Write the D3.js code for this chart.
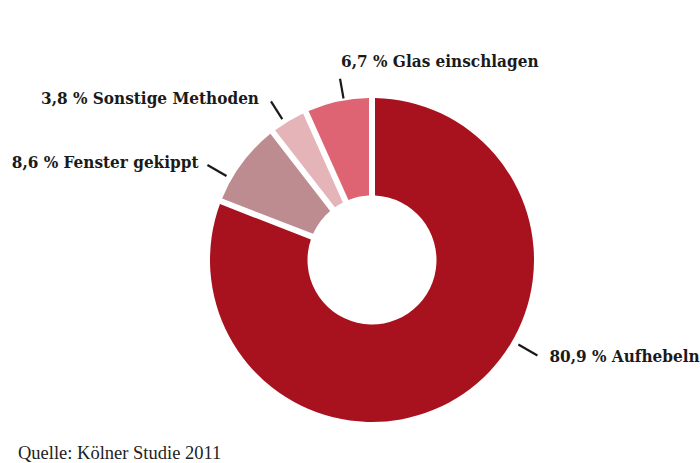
<!DOCTYPE html>
<html>
<head>
<meta charset="utf-8">
<script src="https://cdn.jsdelivr.net/npm/d3@7"></script>
<style>
  html, body { margin: 0; padding: 0; background: #fff; }
  svg { display: block; }
</style>
</head>
<body>
<svg id="chart" width="700" height="463"></svg>
<script>
// Einbruchsmethoden (Anteile in Prozent), im Uhrzeigersinn ab 12 Uhr
const methods = ["Aufhebeln", "Fenster gekippt", "Sonstige Methoden", "Glas einschlagen"];
const shares = [80.9, 8.6, 3.8, 6.7];
const shareLabels = ["80,9 %", "8,6 %", "3,8 %", "6,7 %"];
const colors = ["#a8121e", "#bd8c90", "#e5b4b9", "#de6473"];
const source = "Quelle: Kölner Studie 2011";

// Lage der Beschriftungen: Winkel des Hinweisstrichs (Grad), Strichradien und Textversatz
const labelLayout = [
  { angle: 120, r1: 169, r2: 191, anchor: "start", dx: 12, dy: 6 },
  { angle: 300, r1: 168, r2: 190, anchor: "end", dx: -9, dy: 2.5 },
  { angle: 327.5, r1: 167, r2: 188, anchor: "end", dx: -12, dy: 2.5 },
  { angle: 350, r1: 164, r2: 184, anchor: "start", dx: 1, dy: -11.5 }
];

const svg = d3.select("#chart");
const cx = 372, cy = 260;
const innerR = 64.5, outerR = 162;

const data = methods.map((m, i) => ({ name: m, value: shares[i], label: shareLabels[i], color: colors[i] }));

const pie = d3.pie().sort(null).value(d => d.value);
const arc = d3.arc()
  .innerRadius(innerR)
  .outerRadius(outerR)
  .padAngle(6 / Math.sqrt(innerR * innerR + outerR * outerR));

const g = svg.append("g").attr("transform", `translate(${cx},${cy})`);

g.selectAll("path.slice")
  .data(pie(data))
  .join("path")
  .attr("class", "slice")
  .attr("d", arc)
  .attr("fill", d => d.data.color);

// Hinweisstriche und Beschriftungen
const polar = (deg, r) => {
  const a = deg * Math.PI / 180;
  return [Math.sin(a) * r, -Math.cos(a) * r];
};

data.forEach((d, i) => {
  const lay = labelLayout[i];
  const p1 = polar(lay.angle, lay.r1);
  const p2 = polar(lay.angle, lay.r2);
  g.append("line")
    .attr("x1", p1[0]).attr("y1", p1[1])
    .attr("x2", p2[0]).attr("y2", p2[1])
    .attr("stroke", "#1a1a1a")
    .attr("stroke-width", 2.2);
  g.append("text")
    .attr("x", p2[0] + lay.dx)
    .attr("y", p2[1] + lay.dy)
    .attr("text-anchor", lay.anchor)
    .attr("font-family", "'DejaVu Serif Condensed', 'DejaVu Serif', serif")
    .attr("font-weight", "bold")
    .attr("font-size", 17)
    .attr("fill", "#1a1a1a")
    .text(`${d.label} ${d.name}`);
});

svg.append("text")
  .attr("x", 18)
  .attr("y", 459)
  .attr("font-family", "'Liberation Serif', serif")
  .attr("font-size", 18.5)
  .attr("fill", "#222")
  .text(source);
</script>
</body>
</html>
